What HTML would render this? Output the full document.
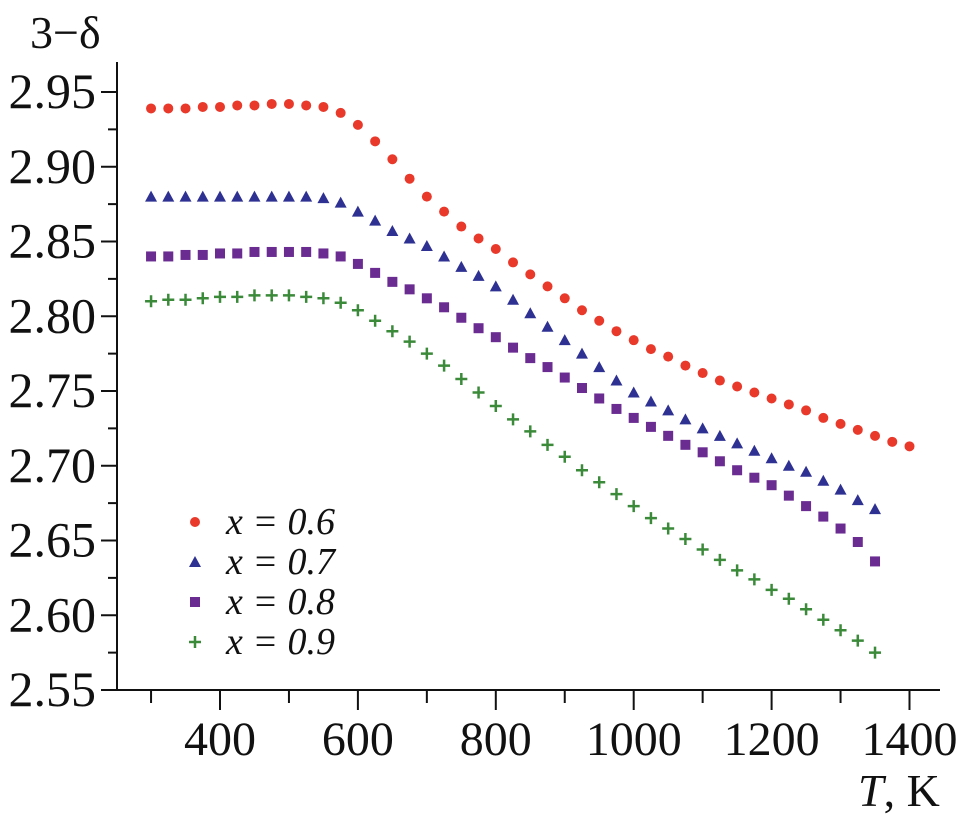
<!DOCTYPE html>
<html><head><meta charset="utf-8"><style>
html,body{margin:0;padding:0;background:#fff}
svg{display:block}
svg text{font-family:"Liberation Serif","Times New Roman",Times,serif;fill:#111}
</style></head><body>
<svg id="chart" width="979" height="834" viewBox="0 0 979 834" xmlns="http://www.w3.org/2000/svg" font-family="Liberation Serif, Times New Roman, serif">
<g id="axes"></g>
<g id="marks"></g>
<text x="30" y="48" font-size="46">3−δ</text>
<text x="858" y="806" font-size="46"><tspan font-style="italic">T</tspan>, K</text>
<g id="legend"></g>
</svg>
<script>
const T_A = [300,325,350,375,400,425,450,475,500,525,550,575,600,625,650,675,700,725,750,775,800,825,850,875,900,925,950,975,1000,1025,1050,1075,1100,1125,1150,1175,1200,1225,1250,1275,1300,1325,1350,1375,1400];
const T_B = [300,325,350,375,400,425,450,475,500,525,550,575,600,625,650,675,700,725,750,775,800,825,850,875,900,925,950,975,1000,1025,1050,1075,1100,1125,1150,1175,1200,1225,1250,1275,1300,1325,1350];
const x06 = [2.939,2.939,2.939,2.940,2.940,2.941,2.941,2.942,2.942,2.941,2.940,2.936,2.928,2.917,2.905,2.892,2.880,2.870,2.860,2.852,2.845,2.836,2.828,2.820,2.812,2.804,2.797,2.790,2.784,2.778,2.773,2.767,2.762,2.757,2.753,2.749,2.745,2.741,2.737,2.732,2.728,2.724,2.720,2.716,2.713];
const x07 = [2.880,2.880,2.880,2.880,2.880,2.880,2.880,2.880,2.880,2.880,2.879,2.876,2.870,2.864,2.857,2.852,2.847,2.840,2.833,2.827,2.820,2.811,2.802,2.793,2.784,2.775,2.766,2.757,2.749,2.743,2.737,2.731,2.725,2.720,2.715,2.710,2.705,2.700,2.696,2.690,2.684,2.677,2.671];
const x08 = [2.840,2.840,2.841,2.841,2.842,2.842,2.843,2.843,2.843,2.843,2.842,2.840,2.835,2.829,2.823,2.818,2.812,2.806,2.799,2.792,2.786,2.779,2.772,2.766,2.759,2.752,2.745,2.738,2.732,2.726,2.720,2.714,2.709,2.703,2.697,2.692,2.687,2.680,2.673,2.666,2.658,2.649,2.636];
const x09 = [2.810,2.811,2.811,2.812,2.813,2.813,2.814,2.814,2.814,2.813,2.812,2.809,2.804,2.797,2.790,2.783,2.775,2.767,2.758,2.749,2.740,2.731,2.723,2.714,2.706,2.697,2.689,2.681,2.673,2.665,2.658,2.651,2.644,2.637,2.630,2.624,2.617,2.611,2.604,2.597,2.590,2.583,2.575];
const xTicks = [300,400,500,600,700,800,900,1000,1100,1200,1300,1400];
const xLabels = ["400","600","800","1000","1200","1400"];
const yTicks = [2.55,2.60,2.65,2.70,2.75,2.80,2.85,2.90,2.95];
const yLabels = ["2.55","2.60","2.65","2.70","2.75","2.80","2.85","2.90","2.95"];
const legendLabels = ["x = 0.6","x = 0.7","x = 0.8","x = 0.9"];

const NS="http://www.w3.org/2000/svg";
const FONT='Liberation Serif, Times New Roman, serif';
const sx = t => 220 + (t-400)*0.6895;
const sy = v => 690 - (v-2.55)/0.05*74.75;
function mk(tag, attrs, parent){const e=document.createElementNS(NS,tag);for(const k in attrs)e.setAttribute(k,attrs[k]);parent.appendChild(e);return e;}
const axes=document.getElementById('axes'), marks=document.getElementById('marks'), legend=document.getElementById('legend');

let yl=mk('line',{x1:117,y1:62,x2:117,y2:691,stroke:'#111','stroke-width':2},axes);


let xl=mk('line',{x1:116,y1:690,x2:940,y2:690,stroke:'#111','stroke-width':2},axes);



xTicks.forEach(t=>{
  const major = t%200===0;
  const l=mk('line',{x1:sx(t),y1:690,x2:sx(t),y2:major?710:703,stroke:'#111','stroke-width':2},axes);
  
  
});
xLabels.forEach(s=>{
  const t=+s;
  const e=mk('text',{x:sx(t),y:755,'font-size':48,'text-anchor':'middle','font-family':FONT},axes);
  e.textContent=s;
  
  
});
yTicks.forEach((v,i)=>{
  const l=mk('line',{x1:101,y1:sy(v),x2:117,y2:sy(v),stroke:'#111','stroke-width':2},axes);
  
  
  if(i<yTicks.length-1){
    const m=mk('line',{x1:108,y1:sy(v+0.025),x2:117,y2:sy(v+0.025),stroke:'#111','stroke-width':2},axes);
    
    
  }
  const e=mk('text',{x:96,y:sy(v)+16,'font-size':50,'text-anchor':'end','font-family':FONT},axes);
  e.textContent=yLabels[i];
  
  
});

const colors=['#e8392b','#2e3192','#6a2c91','#3a8a3a'];
function marker(type,x,y,parent){
  let e;
  if(type===0) e=mk('circle',{cx:x,cy:y,r:5,fill:colors[0]},parent);
  else if(type===1) e=mk('polygon',{points:`${x-6},${y+5} ${x+6},${y+5} ${x},${y-6}`,fill:colors[1]},parent);
  else if(type===2) e=mk('rect',{x:x-5,y:y-5,width:10,height:10,fill:colors[2]},parent);
  else e=mk('path',{d:`M${x-6} ${y}H${x+6}M${x} ${y-6}V${y+6}`,stroke:colors[3],'stroke-width':2.5,fill:'none'},parent);
  return e;
}
const series=[[T_A,x06],[T_B,x07],[T_B,x08],[T_B,x09]];
const sNames=['series-x-0.6','series-x-0.7','series-x-0.8','series-x-0.9'];
series.forEach(([ts,vs],k)=>{
  const g=mk('g',{},marks);
  
  
  vs.forEach((v,i)=>{
    const m=marker(k,sx(ts[i]),sy(v),g);
    
    
  });
});
legendLabels.forEach((s,k)=>{
  const y=522+k*40;
  const g=mk('g',{},legend);
  
  
  const m=marker(k,195,y,g);
  
  
  const t=mk('text',{x:226,y:y+12,'font-size':38,'font-style':'italic','font-family':FONT},g);
  t.textContent=s;
  
  
});
</script>
</body></html>
